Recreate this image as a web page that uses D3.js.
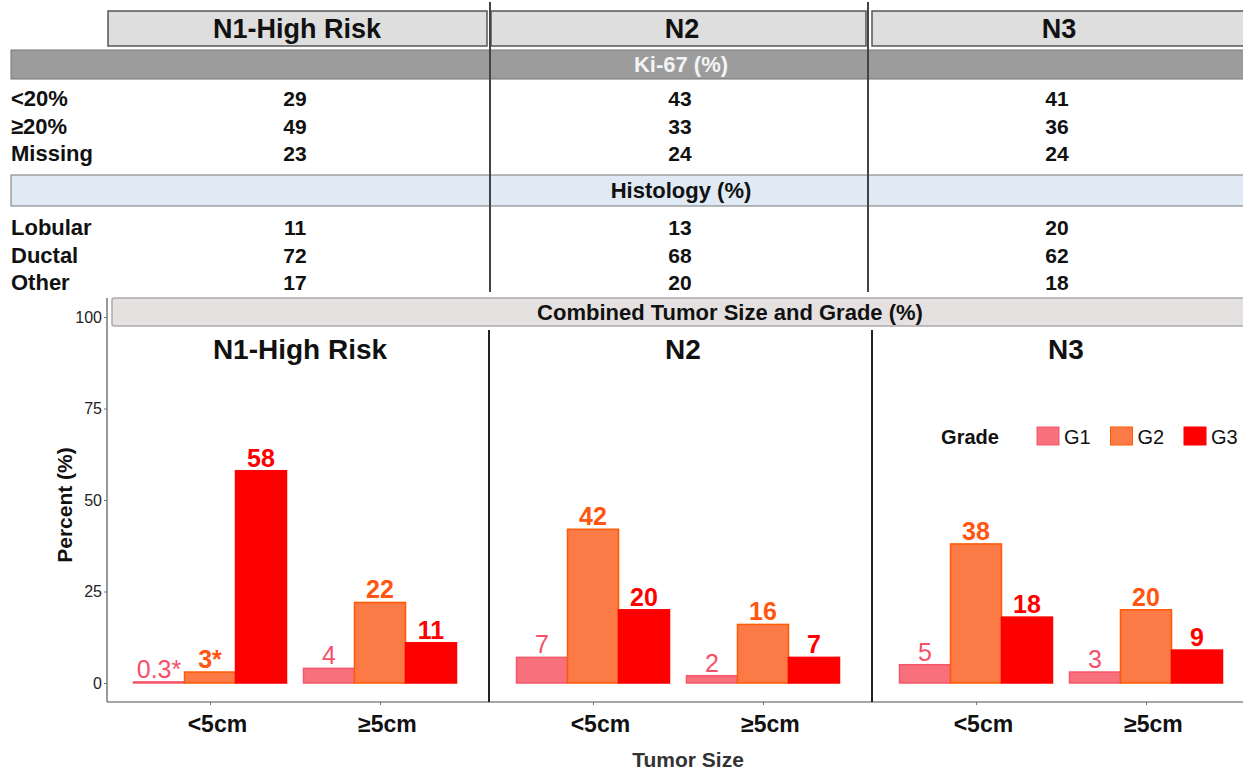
<!DOCTYPE html>
<html>
<head>
<meta charset="utf-8">
<script src="https://cdn.jsdelivr.net/npm/d3@7"></script>
<style>
  body { margin: 0; background: #fff; }
  svg text { font-family: "Liberation Sans", Arial, sans-serif; }
</style>
</head>
<body>
<div id="chart"></div>
<script>
var panels = ["N1-High Risk", "N2", "N3"];
var ki67Rows = ["<20%", "≥20%", "Missing"];
var ki67Values = [[29, 49, 23], [43, 33, 24], [41, 36, 24]];
var histologyRows = ["Lobular", "Ductal", "Other"];
var histologyValues = [[11, 72, 17], [13, 68, 20], [20, 62, 18]];
var sizes = ["<5cm", "≥5cm"];
var grades = ["G1", "G2", "G3"];
var gradeValues = [
  [[0.3, 3, 58], [4, 22, 11]],
  [[7, 42, 20], [2, 16, 7]],
  [[5, 38, 18], [3, 20, 9]]
];
var gradeLabels = [
  [["0.3*", "3*", "58"], ["4", "22", "11"]],
  [["7", "42", "20"], ["2", "16", "7"]],
  [["5", "38", "18"], ["3", "20", "9"]]
];
var yTicks = [0, 25, 50, 75, 100];

var width = 1243,
    height = 770;

var svg = d3.select("#chart").append("svg")
  .attr("width", width)
  .attr("height", height);

var fill = d3.scaleOrdinal().domain(grades).range(["#f7707c", "#fb7a45", "#ff0000"]);
var stroke = d3.scaleOrdinal().domain(grades).range(["#f5566a", "#ff5a05", "#ff0000"]);
var labelColor = d3.scaleOrdinal().domain(grades).range(["#f5506a", "#ff5510", "#ff0000"]);
var labelWeight = d3.scaleOrdinal().domain(grades).range(["normal", "bold", "bold"]);

// ---------- top table ----------
var tableCenters = [297, 682, 1059];
var headerBoxes = [[108, 487], [491, 866], [872, 1260]];

svg.selectAll("rect.header")
  .data(panels)
  .enter().append("rect")
    .attr("class", "header")
    .attr("x", function(d, i) { return headerBoxes[i][0]; })
    .attr("y", 11)
    .attr("width", function(d, i) { return headerBoxes[i][1] - headerBoxes[i][0]; })
    .attr("height", 35)
    .attr("fill", "#dedede")
    .attr("stroke", "#555")
    .attr("stroke-width", 1.5);

svg.selectAll("text.header")
  .data(panels)
  .enter().append("text")
    .attr("class", "header")
    .attr("x", function(d, i) { return tableCenters[i]; })
    .attr("y", 38)
    .attr("text-anchor", "middle")
    .attr("font-size", 27)
    .attr("font-weight", "bold")
    .attr("fill", "#111")
    .text(function(d) { return d; });

function sectionBar(y, h, color, label, textColor) {
  svg.append("rect")
    .attr("x", 11).attr("y", y)
    .attr("width", width).attr("height", h)
    .attr("fill", color)
    .attr("stroke", "#777")
    .attr("stroke-width", 1);
  svg.append("text")
    .attr("x", 681).attr("y", y + h / 2 + 7)
    .attr("text-anchor", "middle")
    .attr("font-size", 22)
    .attr("font-weight", "bold")
    .attr("fill", textColor)
    .text(label);
}

function tableRows(rows, values, y0) {
  var rowY = d3.scalePoint().domain(rows).range([y0, y0 + 55]);
  svg.selectAll(null)
    .data(rows)
    .enter().append("text")
      .attr("x", 11)
      .attr("y", function(d) { return rowY(d); })
      .attr("font-size", 22)
      .attr("font-weight", "bold")
      .attr("fill", "#111")
      .text(function(d) { return d; });
  values.forEach(function(col, i) {
    svg.selectAll(null)
      .data(col)
      .enter().append("text")
        .attr("x", tableCenters[i] - 2)
        .attr("y", function(d, j) { return rowY(rows[j]); })
        .attr("text-anchor", "middle")
        .attr("font-size", 21)
        .attr("font-weight", "bold")
        .attr("fill", "#111")
        .text(function(d) { return d; });
  });
}

sectionBar(50, 29, "#9c9c9c", "Ki-67 (%)", "#f4f4f4");
tableRows(ki67Rows, ki67Values, 106);
sectionBar(175, 31, "#e0eaf4", "Histology (%)", "#111");
tableRows(histologyRows, histologyValues, 235);

[490, 868].forEach(function(x) {
  svg.append("line")
    .attr("x1", x).attr("x2", x)
    .attr("y1", 2).attr("y2", 292)
    .attr("stroke", "#444")
    .attr("stroke-width", 2);
});

// ---------- bar chart ----------
var y = d3.scaleLinear().domain([0, 100]).range([683, 317]);
var axisX = 107,
    axisY = 702,
    panelStep = 383;

// strip
svg.append("rect")
  .attr("x", 112).attr("y", 298)
  .attr("width", width).attr("height", 28)
  .attr("rx", 2)
  .attr("fill", "#e6e1e1")
  .attr("stroke", "#aaa")
  .attr("stroke-width", 1.5);
svg.append("text")
  .attr("x", 730).attr("y", 320)
  .attr("text-anchor", "middle")
  .attr("font-size", 22)
  .attr("font-weight", "bold")
  .attr("fill", "#111")
  .text("Combined Tumor Size and Grade (%)");

// y axis
var yAxis = svg.append("g")
  .attr("transform", "translate(" + axisX + ",0)")
  .call(d3.axisLeft(y).tickValues(yTicks).tickSize(3).tickPadding(2));
yAxis.select(".domain").attr("d", "M0,298V" + axisY).attr("stroke", "#777").attr("stroke-width", 1.5);
yAxis.selectAll(".tick line").attr("stroke", "#777");
yAxis.selectAll(".tick text")
  .attr("font-size", 16)
  .attr("fill", "#222")
  .attr("font-family", '"Liberation Sans", Arial, sans-serif');

svg.append("line")
  .attr("x1", axisX).attr("x2", width)
  .attr("y1", axisY).attr("y2", axisY)
  .attr("stroke", "#888")
  .attr("stroke-width", 1.5);

svg.append("text")
  .attr("transform", "translate(72,505) rotate(-90)")
  .attr("text-anchor", "middle")
  .attr("font-size", 21)
  .attr("font-weight", "bold")
  .attr("fill", "#111")
  .text("Percent (%)");

svg.append("text")
  .attr("x", 688).attr("y", 767)
  .attr("text-anchor", "middle")
  .attr("font-size", 21)
  .attr("font-weight", "bold")
  .attr("fill", "#333")
  .text("Tumor Size");

panels.forEach(function(panel, p) {
  var x0 = axisX + p * panelStep;
  var x = d3.scalePoint().domain(sizes).range([x0 + 103, x0 + 273]);
  var xGrade = d3.scaleBand().domain(grades).range([-76.5, 76.5]);

  if (p > 0) {
    svg.append("line")
      .attr("x1", x0 - 1).attr("x2", x0 - 1)
      .attr("y1", 330).attr("y2", axisY)
      .attr("stroke", "#222")
      .attr("stroke-width", 2);
  }

  svg.append("text")
    .attr("x", x0 + 193).attr("y", 359)
    .attr("text-anchor", "middle")
    .attr("font-size", 28)
    .attr("font-weight", "bold")
    .attr("fill", "#111")
    .text(panel);

  var xAxis = svg.append("g")
    .attr("transform", "translate(0," + axisY + ")")
    .call(d3.axisBottom(x).tickSize(3).tickPadding(5));
  xAxis.select(".domain").remove();
  xAxis.selectAll(".tick line").attr("stroke", "#777");
  xAxis.selectAll(".tick text")
    .attr("dx", "0.3em")
    .attr("dy", "0.95em")
    .attr("font-size", 23)
    .attr("font-weight", "bold")
    .attr("fill", "#111")
    .attr("font-family", '"Liberation Sans", Arial, sans-serif');

  var bars = [];
  sizes.forEach(function(size, s) {
    grades.forEach(function(grade, g) {
      bars.push({ size: size, grade: grade, value: gradeValues[p][s][g], label: gradeLabels[p][s][g] });
    });
  });

  svg.selectAll(null)
    .data(bars)
    .enter().append("rect")
      .attr("x", function(d) { return x(d.size) + xGrade(d.grade); })
      .attr("y", function(d) { return y(d.value); })
      .attr("width", xGrade.bandwidth())
      .attr("height", function(d) { return y(0) - y(d.value); })
      .attr("fill", function(d) { return fill(d.grade); })
      .attr("stroke", function(d) { return stroke(d.grade); })
      .attr("stroke-width", 1.5);

  svg.selectAll(null)
    .data(bars)
    .enter().append("text")
      .attr("x", function(d) { return x(d.size) + xGrade(d.grade) + xGrade.bandwidth() / 2; })
      .attr("y", function(d) { return y(d.value) - 4; })
      .attr("text-anchor", "middle")
      .attr("font-size", 25)
      .attr("font-weight", function(d) { return labelWeight(d.grade); })
      .attr("fill", function(d) { return labelColor(d.grade); })
      .text(function(d) { return d.label; });
});

// legend
var legend = svg.append("g").attr("transform", "translate(970,444)");
legend.append("text")
  .attr("x", 0).attr("y", 0)
  .attr("text-anchor", "middle")
  .attr("font-size", 20)
  .attr("font-weight", "bold")
  .attr("fill", "#111")
  .text("Grade");
var legendX = d3.scalePoint().domain(grades).range([67, 214]);
var legendItem = legend.selectAll("g.item")
  .data(grades)
  .enter().append("g")
    .attr("class", "item")
    .attr("transform", function(d) { return "translate(" + legendX(d) + ",0)"; });
legendItem.append("rect")
  .attr("x", 0).attr("y", -17)
  .attr("width", 22).attr("height", 18)
  .attr("fill", function(d) { return fill(d); })
  .attr("stroke", function(d) { return stroke(d); })
  .attr("stroke-width", 1);
legendItem.append("text")
  .attr("x", 27).attr("y", 0)
  .attr("font-size", 20)
  .attr("fill", "#111")
  .text(function(d) { return d; });
</script>
</body>
</html>
